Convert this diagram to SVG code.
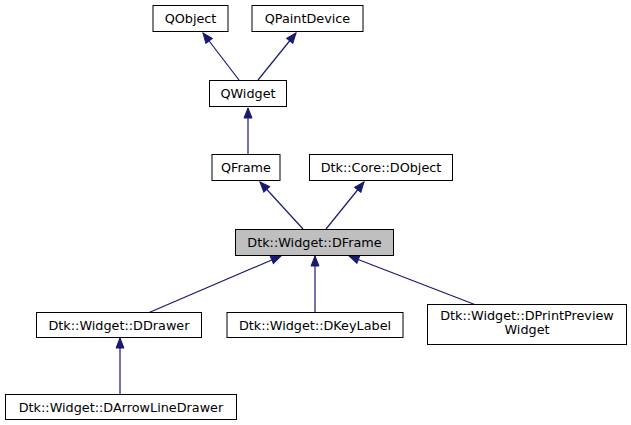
<svg xmlns="http://www.w3.org/2000/svg" width="631" height="425" viewBox="0 0 631 425">
<style>
.n rect{fill:#ffffff;stroke:#000000;stroke-width:1}
.n.cur rect{fill:#bfbfbf}
.n text{font-family:"DejaVu Sans",sans-serif;font-size:12.8px;fill:#000000;text-anchor:middle}
.e line{stroke:#191970;stroke-width:1.2;marker-end:url(#ah)}
</style>
<defs>
<marker id="ah" viewBox="-11 -5 12 10" refX="0" refY="0" markerWidth="12" markerHeight="10" markerUnits="userSpaceOnUse" orient="auto">
<path d="M0,0 L-10,-4 L-10,4 Z" fill="#191970" stroke="#191970" stroke-width="1"/>
</marker>
</defs>
<rect width="631" height="425" fill="#ffffff"/>
<g id="edges" class="e">
<line x1="239" y1="80" x2="203" y2="33"/>
<line x1="258" y1="80" x2="296" y2="33"/>
<line x1="248" y1="154" x2="248" y2="108"/>
<line x1="303" y1="229" x2="260" y2="182"/>
<line x1="326" y1="229" x2="364" y2="182"/>
<line x1="148" y1="313" x2="281" y2="256"/>
<line x1="315" y1="312" x2="315" y2="256"/>
<line x1="476" y1="305" x2="349" y2="256"/>
<line x1="120" y1="394" x2="120" y2="338"/>
</g>
<g id="QObject" class="n"><rect x="153" y="5.5" width="75" height="26"/><text x="190.5" y="23">QObject</text></g>
<g id="QPaintDevice" class="n"><rect x="252" y="5.5" width="111" height="26"/><text x="307.5" y="23">QPaintDevice</text></g>
<g id="QWidget" class="n"><rect x="209.5" y="80.5" width="77" height="26"/><text x="248" y="98">QWidget</text></g>
<g id="QFrame" class="n"><rect x="212" y="154.5" width="68" height="26"/><text x="246" y="172">QFrame</text></g>
<g id="DObject" class="n"><rect x="309.5" y="154.5" width="143" height="26"/><text x="381" y="172">Dtk::Core::DObject</text></g>
<g id="DFrame" class="n cur"><rect x="235.5" y="229.5" width="158" height="26"/><text x="314.5" y="247">Dtk::Widget::DFrame</text></g>
<g id="DDrawer" class="n"><rect x="36.5" y="312.5" width="165" height="25"/><text x="119" y="329.5">Dtk::Widget::DDrawer</text></g>
<g id="DKeyLabel" class="n"><rect x="227" y="312.5" width="176" height="25"/><text x="315" y="329.5">Dtk::Widget::DKeyLabel</text></g>
<g id="DPrintPreviewWidget" class="n"><rect x="427.5" y="304.5" width="199" height="40"/><text x="527" y="319.5">Dtk::Widget::DPrintPreview</text><text x="527" y="334">Widget</text></g>
<g id="DArrowLineDrawer" class="n"><rect x="5.5" y="394.5" width="231" height="25"/><text x="121" y="411.5">Dtk::Widget::DArrowLineDrawer</text></g>
</svg>
